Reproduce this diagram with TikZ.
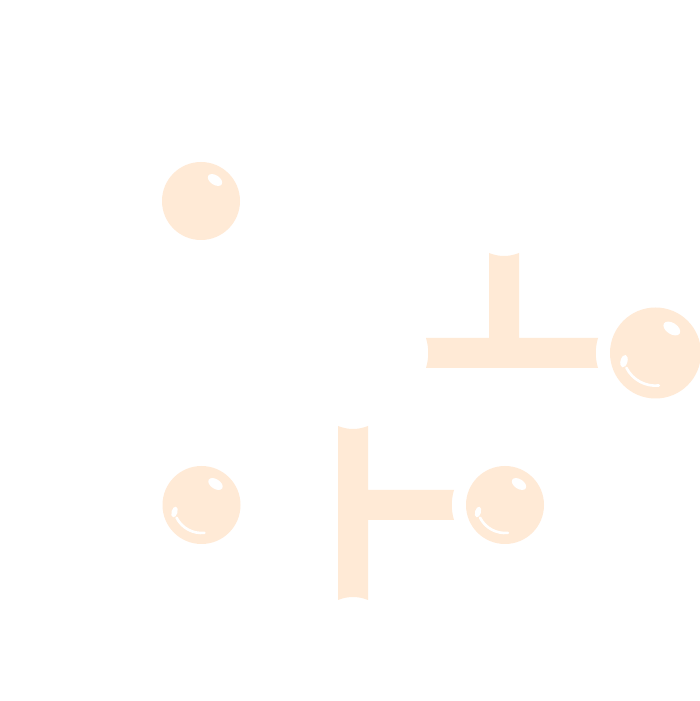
\documentclass[tikz,border=0pt]{standalone}
\definecolor{peach}{HTML}{FFEAD6}
\tikzset{
  ballbody/.style={circle, fill=peach, draw=none, inner sep=0pt},
  pipe/.style={fill=peach, draw=none},
  shine/.style={fill=white, draw=none},
  shinearc/.style={draw=white, line width=2.6pt, line cap=round}
}
\newcommand{\myball}[5]{%
  \node[ballbody, minimum size=#4*2pt] (#1) at (#2,#3) {};
  \begin{scope}[shift={(#2,#3)}, scale=#4/39]
    \fill[shine, rotate around={-33:(14,21)}] (14,21) ellipse [x radius=8, y radius=4.8];
    \ifnum#5=1
      \fill[shine, rotate around={-15:(-27,-7)}] (-27,-7) ellipse [x radius=3, y radius=5.5];
      \draw[shinearc] (207:28) arc[start angle=207, end angle=276, radius=28];
    \fi
  \end{scope}}
\begin{document}
\begin{tikzpicture}[x=1pt, y=1pt]
\useasboundingbox (0,0) rectangle (700,701);
\fill[white] (0,0) rectangle (700,701);
% pipes
\fill[pipe] (489,448) .. controls (499,444) and (509,444) .. (519,448) -- (519,363) -- (598,363)
  .. controls (595,353) and (595,343) .. (598,333) -- (426,333)
  .. controls (429,343) and (429,353) .. (426,363) -- (489,363) -- cycle;
\fill[pipe] (338,275) .. controls (348,271) and (358,271) .. (368,275) -- (368,211) -- (454,211)
  .. controls (451,201) and (451,191) .. (454,181) -- (368,181) -- (368,101)
  .. controls (358,105) and (348,105) .. (338,101) -- cycle;
% balls
\myball{a}{201}{500}{39}{0}
\myball{b}{655.5}{348}{45.5}{1}
\myball{c}{201.5}{196}{39}{1}
\myball{d}{505}{196}{39}{1}
\end{tikzpicture}
\end{document}
